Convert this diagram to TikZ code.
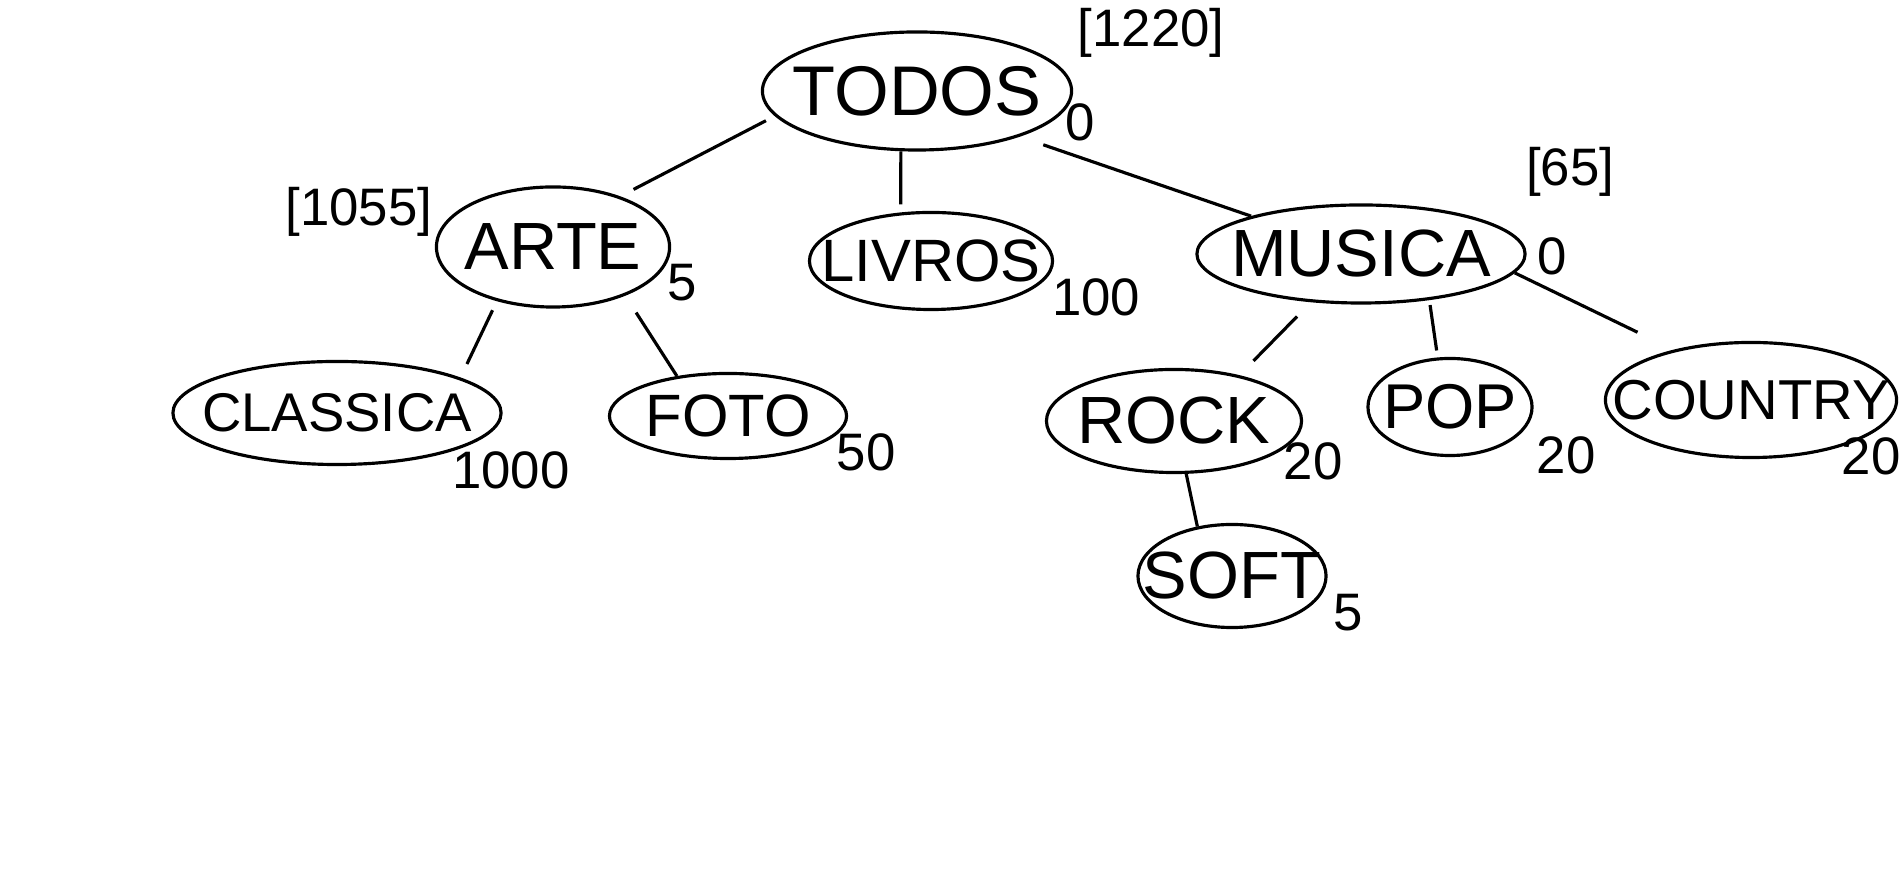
\documentclass[tikz,border=0pt]{standalone}
\usepackage{fontspec}
\setmainfont{Liberation Sans}
\usetikzlibrary{shapes.geometric}

\tikzset{
  categoria/.style={ellipse, draw, inner sep=0pt},
  rotulo/.style={font=\fontsize{#1}{#1}\selectfont, inner sep=0pt},
  valor/.style={font=\fontsize{15}{17}\selectfont, inner sep=0pt}
}

\begin{document}
\begin{tikzpicture}[x=0.01cm, y=-0.01cm, line width=0.9pt]

\useasboundingbox (0,0) rectangle (1903,871);

% Draw the ellipses of the hierarchy
\node[categoria, minimum width=3.09cm, minimum height=1.18cm, label={[rotulo=20]center:TODOS}] (todos) at (917,91) {};
\node[categoria, minimum width=2.33cm, minimum height=1.20cm, label={[rotulo=19]center:ARTE}] (arte) at (553,247) {};
\node[categoria, minimum width=2.43cm, minimum height=0.97cm, label={[rotulo=17]center:LIVROS}] (livros) at (931,261) {};
\node[categoria, minimum width=3.28cm, minimum height=0.98cm, label={[rotulo=19]center:MUSICA}] (musica) at (1361,254) {};
\node[categoria, minimum width=3.28cm, minimum height=1.03cm, label={[rotulo=15.5]center:CLASSICA}] (classica) at (337,413) {};
\node[categoria, minimum width=2.37cm, minimum height=0.85cm, label={[rotulo=17]center:FOTO}] (foto) at (728,416) {};
\node[categoria, minimum width=2.55cm, minimum height=1.03cm, label={[rotulo=19]center:ROCK}] (rock) at (1174,421) {};
\node[categoria, minimum width=1.64cm, minimum height=0.97cm, label={[rotulo=18]center:POP}] (pop) at (1450,407) {};
\node[categoria, minimum width=2.91cm, minimum height=1.15cm, label={[rotulo=16]center:COUNTRY}] (country) at (1751,400) {};
\node[categoria, minimum width=1.88cm, minimum height=1.03cm, label={[rotulo=19]center:SOFT}] (soft) at (1232,576) {};

% Draw the links between the levels
\draw[shorten <=0.1cm, shorten >=0.15cm] (todos.190) -- (arte.37);
\draw[shorten >=0.08cm] (todos.255) -- (livros.122);
\draw[shorten <=0.25cm] (todos.336) -- (musica.161);
\draw[shorten <=0.1cm, shorten >=0.15cm] (arte.224) -- (classica.16);
\draw[shorten <=0.2cm] (arte.326) -- (foto.142);
\draw[shorten <=0.2cm, shorten >=0.2cm] (musica.224) -- (rock.35);
\draw[shorten <=0.05cm, shorten >=0.07cm] (musica.326) -- (pop.104);
\draw[shorten >=0.4cm] (musica.353) -- (country.147);
\draw (rock.283) -- (soft.125);

% Write the values and the totals
\node[valor] (ttodos) at (1151,33) {[1220]};
\node[valor] (vtodos) at (1080,122) {0};
\node[valor] (tarte) at (359,212) {[1055]};
\node[valor] (varte) at (682,283) {5};
\node[valor] (vlivros) at (1096,297) {100};
\node[valor] (tmusica) at (1570,172) {[65]};
\node[valor] (vmusica) at (1552,256) {0};
\node[valor] (vclassica) at (511,470) {1000};
\node[valor] (vfoto) at (866,452) {50};
\node[valor] (vrock) at (1313,461) {20};
\node[valor] (vpop) at (1566,455) {20};
\node[valor] (vcountry) at (1871,456) {20};
\node[valor] (vsoft) at (1348,613) {5};

\end{tikzpicture}
\end{document}
